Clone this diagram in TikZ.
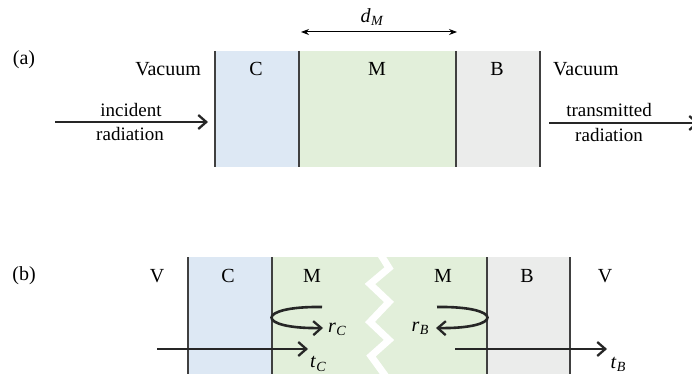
\documentclass[tikz,border=0pt]{standalone}
\usepackage{fontspec}
\setmainfont{Liberation Serif}
\usetikzlibrary{arrows.meta}
\definecolor{cblue}{HTML}{DDE8F4}
\definecolor{cgreen}{HTML}{E2EFDA}
\definecolor{cgray}{HTML}{EBECEB}
\definecolor{cline}{HTML}{404040}
\newcommand\mysub[2]{\textit{#1}\kern0.02em\raisebox{-0.35ex}{\fontsize{14}{14}\selectfont\textit{#2}}}
\begin{document}
\begin{tikzpicture}[x=1pt,y=-1pt,
  lbl/.style={inner sep=0pt,font=\fontsize{20}{22}\selectfont},
  slbl/.style={inner sep=0pt,font=\fontsize{19}{21}\selectfont,align=center},
  wall/.style={draw=cline,line width=1.3pt},
  ray/.style={line width=2.6pt,color=black!85,-{Straight Barb[length=8pt,width=14pt,line width=2.3pt]}},
  dim/.style={line width=1pt,{Stealth[length=8pt,width=6pt]}-{Stealth[length=8pt,width=6pt]}}]
\useasboundingbox (0,0) rectangle (692,374);
% ---------- (a) ----------
\fill[cblue] (215,51) rectangle (299,167);
\fill[cgreen] (299,51) rectangle (456,167);
\fill[cgray] (456,51) rectangle (540,167);
\coordinate (a1t) at (215,51); \coordinate (a1b) at (215,167);
\coordinate (a2t) at (299,51); \coordinate (a2b) at (299,167);
\coordinate (a3t) at (456,51); \coordinate (a3b) at (456,167);
\coordinate (a4t) at (540,51); \coordinate (a4b) at (540,167);
\draw[wall] (a1t) -- (a1b);
\draw[wall] (a2t) -- (a2b);
\draw[wall] (a3t) -- (a3b);
\draw[wall] (a4t) -- (a4b);
\coordinate (dl) at (301,32); \coordinate (dr) at (457,32);
\draw[dim] (dl) -- (dr);
\node[lbl] (dM) at (372,17) {\mysub{d}{M}};
\node[lbl] (la) at (24,60) {(a)};
\node[lbl,anchor=east] (vacL) at (201,69) {Vacuum};
\node[lbl] (Ca) at (256,69) {C};
\node[lbl] (Ma) at (377,69) {M};
\node[lbl] (Ba) at (497,69) {B};
\node[lbl,anchor=west] (vacR) at (553,69) {Vacuum};
\coordinate (inS) at (55,122); \coordinate (inE) at (208,122);
\draw[ray] (inS) -- (inE);
\node[slbl] (inc1) at (131,110) {incident};
\node[slbl] (inc2) at (130,134) {radiation};
\coordinate (trS) at (549,123); \coordinate (trE) at (699,123);
\draw[ray] (trS) -- (trE);
\node[slbl] (tr1) at (609,110) {transmitted};
\node[slbl] (tr2) at (609,135) {radiation};
% ---------- (b) ----------
\fill[cblue] (188,257) rectangle (272,374);
\fill[cgreen] (272,257) rectangle (487,374);
\fill[cgray] (487,257) rectangle (570,374);
\draw[white,line width=7pt,line join=miter] (379,252) -- (389,268) -- (370,284) -- (389,302) -- (370,322) -- (389,340) -- (371,356) -- (387,378);
\coordinate (b1t) at (188,257); \coordinate (b1b) at (188,374);
\coordinate (b2t) at (272,257); \coordinate (b2b) at (272,374);
\coordinate (b3t) at (487,257); \coordinate (b3b) at (487,374);
\coordinate (b4t) at (570,257); \coordinate (b4b) at (570,374);
\draw[wall] (b1t) -- (b1b);
\draw[wall] (b2t) -- (b2b);
\draw[wall] (b3t) -- (b3b);
\draw[wall] (b4t) -- (b4b);
\node[lbl] (lb) at (24,276) {(b)};
\node[lbl] (Vb1) at (157,276) {V};
\node[lbl] (Cb) at (228,276) {C};
\node[lbl] (Mb1) at (312,276) {M};
\node[lbl] (Mb2) at (443,276) {M};
\node[lbl] (Bb) at (527,276) {B};
\node[lbl] (Vb2) at (605,276) {V};
% reflections
\coordinate (rcS) at (322,307); \coordinate (rcE) at (323,328);
\draw[ray] (rcS) .. controls (255,306) and (255,329) .. (rcE);
\node[lbl] (rC) at (337,329) {\mysub{r}{C}};
\coordinate (rbS) at (437,307); \coordinate (rbE) at (436,328);
\draw[ray] (rbS) .. controls (504,306) and (504,329) .. (rbE);
\node[lbl] (rB) at (420,328) {\mysub{r}{B}};
% transmissions
\coordinate (tcS) at (157,349); \coordinate (tcE) at (308,349);
\draw[ray] (tcS) -- (tcE);
\node[lbl] (tC) at (318,364) {\mysub{t}{C}};
\coordinate (tbS) at (455,349); \coordinate (tbE) at (607,349);
\draw[ray] (tbS) -- (tbE);
\node[lbl] (tB) at (618,364) {\mysub{t}{B}};
\end{tikzpicture}
\end{document}
